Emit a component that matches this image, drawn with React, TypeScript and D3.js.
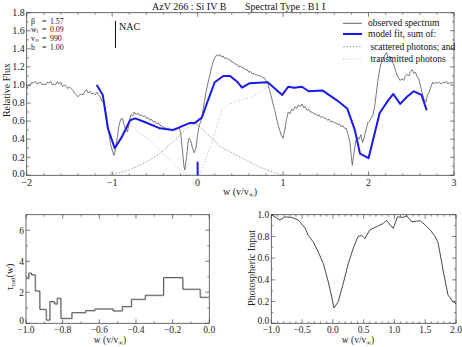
import React from "react";
import * as d3 from "d3";

// ---------- DATA ----------
const obsSpectrum: [number, number][] = [
  [-2.0, 0.95], [-1.98, 1.0], [-1.96, 0.99], [-1.94, 1.03], [-1.92, 1.02], [-1.9, 1.04], [-1.88, 1.01], [-1.86, 1.02],
  [-1.84, 1.03], [-1.82, 1.0], [-1.8, 1.01], [-1.78, 1.0], [-1.76, 1.03], [-1.74, 1.02], [-1.72, 1.04], [-1.7, 1.0],
  [-1.68, 1.01], [-1.66, 1.0], [-1.64, 1.04], [-1.62, 1.01], [-1.6, 1.03], [-1.58, 0.98], [-1.56, 1.0], [-1.54, 0.99],
  [-1.52, 0.96], [-1.5, 0.98], [-1.48, 0.96], [-1.46, 0.94], [-1.44, 0.91], [-1.42, 0.89], [-1.4, 0.87], [-1.38, 0.89],
  [-1.36, 0.9], [-1.34, 0.89], [-1.32, 0.93], [-1.3, 0.95], [-1.28, 0.91], [-1.26, 0.93], [-1.24, 0.9], [-1.22, 0.91],
  [-1.2, 0.89], [-1.18, 0.92], [-1.16, 0.89], [-1.14, 0.87], [-1.12, 0.82], [-1.1, 0.81], [-1.08, 0.74], [-1.06, 0.62],
  [-1.04, 0.48], [-1.02, 0.35], [-1.0, 0.28], [-0.98, 0.22], [-0.96, 0.3], [-0.94, 0.42], [-0.92, 0.55], [-0.9, 0.62],
  [-0.88, 0.63], [-0.86, 0.56], [-0.84, 0.5], [-0.82, 0.48], [-0.8, 0.6], [-0.78, 0.67], [-0.76, 0.66], [-0.74, 0.7],
  [-0.72, 0.67], [-0.7, 0.69], [-0.68, 0.66], [-0.66, 0.67], [-0.64, 0.65], [-0.62, 0.66], [-0.6, 0.63], [-0.58, 0.64],
  [-0.56, 0.61], [-0.54, 0.62], [-0.52, 0.59], [-0.5, 0.6], [-0.48, 0.57], [-0.46, 0.58], [-0.44, 0.55], [-0.42, 0.55],
  [-0.4, 0.53], [-0.38, 0.53], [-0.36, 0.51], [-0.34, 0.52], [-0.32, 0.51], [-0.3, 0.51], [-0.28, 0.51], [-0.26, 0.52],
  [-0.24, 0.51], [-0.22, 0.53], [-0.2, 0.48], [-0.18, 0.3], [-0.16, 0.1], [-0.15, 0.06], [-0.13, 0.2], [-0.11, 0.38],
  [-0.1, 0.41], [-0.08, 0.38], [-0.06, 0.3], [-0.04, 0.25], [-0.02, 0.3], [0.0, 0.45], [0.02, 0.56], [0.04, 0.6],
  [0.06, 0.7], [0.08, 0.82], [0.1, 0.93], [0.12, 1.02], [0.14, 1.09], [0.16, 1.18], [0.18, 1.25], [0.2, 1.3],
  [0.22, 1.33], [0.24, 1.32], [0.26, 1.34], [0.28, 1.31], [0.3, 1.32], [0.32, 1.29], [0.34, 1.3], [0.36, 1.28],
  [0.38, 1.28], [0.4, 1.25], [0.42, 1.25], [0.44, 1.23], [0.46, 1.23], [0.48, 1.2], [0.5, 1.21], [0.52, 1.19],
  [0.54, 1.19], [0.56, 1.17], [0.58, 1.17], [0.6, 1.14], [0.62, 1.15], [0.64, 1.12], [0.66, 1.13], [0.68, 1.11],
  [0.7, 1.11], [0.72, 1.1], [0.74, 1.1], [0.76, 1.08], [0.78, 1.08], [0.8, 1.05], [0.82, 1.02], [0.84, 0.95],
  [0.86, 0.88], [0.88, 0.8], [0.9, 0.73], [0.92, 0.65], [0.94, 0.56], [0.96, 0.5], [0.98, 0.44], [1.0, 0.41],
  [1.02, 0.5], [1.04, 0.62], [1.06, 0.7], [1.08, 0.68], [1.1, 0.73], [1.12, 0.72], [1.14, 0.76], [1.16, 0.74],
  [1.18, 0.78], [1.2, 0.76], [1.22, 0.79], [1.24, 0.75], [1.26, 0.76], [1.28, 0.72], [1.3, 0.73], [1.32, 0.7],
  [1.34, 0.7], [1.36, 0.68], [1.38, 0.68], [1.4, 0.66], [1.42, 0.67], [1.44, 0.64], [1.46, 0.65], [1.48, 0.63],
  [1.5, 0.63], [1.52, 0.61], [1.54, 0.62], [1.56, 0.59], [1.58, 0.6], [1.6, 0.58], [1.62, 0.58], [1.64, 0.56],
  [1.66, 0.57], [1.68, 0.54], [1.7, 0.55], [1.72, 0.52], [1.74, 0.52], [1.76, 0.45], [1.78, 0.38], [1.8, 0.2],
  [1.81, 0.11], [1.83, 0.25], [1.85, 0.38], [1.87, 0.42], [1.89, 0.4], [1.91, 0.45], [1.93, 0.36], [1.95, 0.42],
  [1.97, 0.5], [1.99, 0.58], [2.01, 0.6], [2.03, 0.63], [2.05, 0.66], [2.07, 0.75], [2.09, 0.9], [2.11, 1.05],
  [2.13, 1.17], [2.15, 1.25], [2.17, 1.28], [2.19, 1.33], [2.21, 1.36], [2.23, 1.3], [2.25, 1.32], [2.27, 1.26],
  [2.29, 1.24], [2.31, 1.18], [2.33, 1.12], [2.35, 1.08], [2.37, 1.05], [2.39, 1.07], [2.41, 1.05], [2.43, 1.1],
  [2.45, 1.12], [2.47, 1.1], [2.49, 1.15], [2.51, 1.17], [2.53, 1.13], [2.55, 1.14], [2.57, 1.09], [2.59, 1.06],
  [2.61, 0.98], [2.63, 0.9], [2.65, 0.84], [2.67, 0.81], [2.69, 0.89], [2.71, 0.92], [2.73, 0.98], [2.75, 1.03],
  [2.77, 1.01], [2.79, 1.03], [2.81, 1.02], [2.83, 1.03], [2.85, 1.01], [2.87, 1.03], [2.89, 1.02], [2.91, 1.04],
  [2.93, 1.01], [2.95, 1.03], [2.97, 1.02], [2.99, 1.03],
];

const modelFit: [number, number][] = [
  [-1.18, 1.0], [-1.11, 0.89], [-1.05, 0.52], [-0.97, 0.3], [-0.89, 0.42], [-0.79, 0.61], [-0.73, 0.63],
  [-0.62, 0.59], [-0.44, 0.52], [-0.29, 0.5], [-0.09, 0.58], [-0.03, 0.58], [0.05, 0.64], [0.11, 0.8],
  [0.2, 1.03], [0.3, 1.1], [0.38, 1.1], [0.47, 1.03], [0.52, 0.97], [0.61, 1.02], [0.82, 1.03], [0.99, 0.89],
  [1.06, 0.98], [1.13, 0.97], [1.22, 0.98], [1.3, 0.93], [1.46, 0.94], [1.63, 0.83], [1.75, 0.74],
  [1.84, 0.5], [1.9, 0.24], [2.0, 0.19], [2.13, 0.69], [2.23, 0.83], [2.29, 0.9], [2.37, 0.79], [2.45, 0.87],
  [2.53, 0.93], [2.62, 0.89], [2.68, 0.72],
];

const nacMarker: [number, number][] = [[0, 0], [0, 0.15]];

const scattered: [number, number][] = [
  [-1.18, 0.0], [-1.05, 0.0], [-0.9, 0.03], [-0.8, 0.06], [-0.68, 0.11], [-0.56, 0.17], [-0.44, 0.24],
  [-0.3, 0.36], [-0.17, 0.48], [-0.08, 0.56], [0.0, 0.56], [0.07, 0.5], [0.26, 0.32], [0.46, 0.22],
  [0.7, 0.1], [0.9, 0.03], [1.0, 0.0], [1.98, 0.0],
];

const transmitted: [number, number][] = [
  [-1.18, 1.0], [-1.11, 0.89], [-1.05, 0.52], [-0.97, 0.29], [-0.89, 0.4], [-0.79, 0.56], [-0.68, 0.47],
  [-0.56, 0.39], [-0.44, 0.28], [-0.3, 0.14], [-0.17, 0.03], [-0.08, 0.0], [0.03, 0.0], [0.1, 0.2],
  [0.18, 0.39], [0.28, 0.72], [0.34, 0.78], [0.5, 0.83], [0.65, 0.87], [0.81, 0.98], [0.99, 0.89],
  [1.06, 0.98], [1.13, 0.97], [1.22, 0.98], [1.3, 0.93], [1.46, 0.94], [1.63, 0.83], [1.75, 0.74],
  [1.84, 0.5], [1.9, 0.24], [2.0, 0.19], [2.13, 0.69], [2.23, 0.83], [2.29, 0.9], [2.37, 0.79],
  [2.45, 0.87], [2.53, 0.93], [2.62, 0.89], [2.68, 0.72],
];

const tauEdges = [-1.0, -0.985, -0.97, -0.95, -0.925, -0.89, -0.87, -0.845, -0.83, -0.81, -0.75, -0.675,
  -0.625, -0.525, -0.475, -0.425, -0.35, -0.25, -0.145, -0.05, 0.0];
const tauValues = [2.9, 3.24, 3.13, 2.09, 0.9, 0.21, 1.4, 1.25, 1.62, 0.32, 0.69, 0.82, 0.93, 0.8, 1.08,
  1.55, 1.81, 2.95, 2.2, 1.68];

const photInput: [number, number][] = [
  [-1.0, 1.0], [-0.94, 0.98], [-0.86, 0.95], [-0.78, 0.98], [-0.67, 0.975], [-0.56, 0.95], [-0.45, 0.875],
  [-0.4, 0.81], [-0.32, 0.75], [-0.24, 0.66], [-0.155, 0.55], [-0.074, 0.38], [-0.02, 0.245], [0.018, 0.14],
  [0.088, 0.2], [0.17, 0.37], [0.25, 0.55], [0.34, 0.705], [0.41, 0.8], [0.47, 0.81], [0.52, 0.78],
  [0.6, 0.86], [0.71, 0.89], [0.82, 0.92], [0.87, 0.95], [0.93, 0.905], [0.98, 0.875], [1.05, 0.98],
  [1.14, 0.975], [1.2, 0.99], [1.28, 0.935], [1.42, 0.945], [1.5, 0.905], [1.58, 0.86], [1.66, 0.8],
  [1.71, 0.74], [1.79, 0.49], [1.87, 0.26], [1.95, 0.2], [2.0, 0.18],
];

const mainXTicks = [-2, -1, 0, 1, 2, 3];
const mainYTicks = [0, 0.2, 0.4, 0.6, 0.8, 1.0, 1.2, 1.4, 1.6, 1.8];
const tauXTicks = [-1.0, -0.8, -0.6, -0.4, -0.2, 0.0];
const tauYTicks = [0, 2, 4, 6];
const photXTicks = [-1.0, -0.5, 0.0, 0.5, 1.0, 1.5, 2.0];
const photYTicks = [0.0, 0.2, 0.4, 0.6, 0.8, 1.0];

const paramLabels = ["β", "w", "v", "b"];
const paramSubs = ["", "t", "∞", ""];
const paramValues = ["1.57", "0.09", "990", "1.00"];

const legendLabels = ["observed spectrum", "model fit, sum of:", " scattered photons; and", " transmitted photons"];

// ---------- HELPERS ----------
const FONT = "'Liberation Serif', 'Times New Roman', serif";
const FRAME = "#444";

const fmt = (d: number, digits: number) => {
  const s = Math.abs(d).toFixed(digits);
  return (d < -1e-9 ? "\u2212" : "") + s;
};

function range(a: number, b: number, step: number) {
  const out: number[] = [];
  for (let v = a; v <= b + 1e-9; v += step) out.push(+v.toFixed(6));
  return out;
}

type FrameProps = {
  x: d3.ScaleLinear<number, number>;
  y: d3.ScaleLinear<number, number>;
  xTicks: number[];
  yTicks: number[];
  xMinor: number[];
  yMinor: number[];
  xDigits: number;
  yDigits: number;
  fs: number;
  xLabelDy: number;
  firstYDy: number;
};

function Frame({ x, y, xTicks, yTicks, xMinor, yMinor, xDigits, yDigits, fs, xLabelDy, firstYDy }: FrameProps) {
  const [x0, x1] = x.range();
  const [y0, y1] = y.range();
  const top = Math.min(y0, y1);
  const bot = Math.max(y0, y1);
  const MJ = 4, MN = 2;
  return (
    <g>
      <rect x={x0} y={top} width={x1 - x0} height={bot - top} fill="none" stroke={FRAME} strokeWidth={0.8} />
      {xTicks.map((t) => (
        <g key={"xt" + t}>
          <line x1={x(t)} x2={x(t)} y1={bot} y2={bot - MJ} stroke={FRAME} strokeWidth={0.7} />
          <line x1={x(t)} x2={x(t)} y1={top} y2={top + MJ} stroke={FRAME} strokeWidth={0.7} />
          <text x={x(t)} y={bot + xLabelDy} textAnchor="middle" fontSize={fs} fontFamily={FONT} fill="#222">
            {fmt(t, xDigits)}
          </text>
        </g>
      ))}
      {xMinor.map((t) => (
        <g key={"xm" + t}>
          <line x1={x(t)} x2={x(t)} y1={bot} y2={bot - MN} stroke={FRAME} strokeWidth={0.6} />
          <line x1={x(t)} x2={x(t)} y1={top} y2={top + MN} stroke={FRAME} strokeWidth={0.6} />
        </g>
      ))}
      {yTicks.map((t, i) => (
        <g key={"yt" + t}>
          <line x1={x0} x2={x0 + MJ} y1={y(t)} y2={y(t)} stroke={FRAME} strokeWidth={0.7} />
          <line x1={x1} x2={x1 - MJ} y1={y(t)} y2={y(t)} stroke={FRAME} strokeWidth={0.7} />
          <text x={x0 - 2} y={y(t) + (i === 0 ? firstYDy : 3.3)} textAnchor="end" fontSize={fs} fontFamily={FONT} fill="#222">
            {fmt(t, yDigits)}
          </text>
        </g>
      ))}
      {yMinor.map((t) => (
        <g key={"ym" + t}>
          <line x1={x0} x2={x0 + MN} y1={y(t)} y2={y(t)} stroke={FRAME} strokeWidth={0.6} />
          <line x1={x1} x2={x1 - MN} y1={y(t)} y2={y(t)} stroke={FRAME} strokeWidth={0.6} />
        </g>
      ))}
    </g>
  );
}

function WLabel({ cx, y, fs }: { cx: number; y: number; fs: number }) {
  return (
    <text x={cx} y={y} textAnchor="middle" fontSize={fs} fontFamily={FONT} fill="#222">
      w (v/v<tspan fontSize={fs * 0.7} dy={2}>∞</tspan>
      <tspan dy={-2}>)</tspan>
    </text>
  );
}

// ---------- APP ----------
export default function App() {
  const W = 462, H = 347;

  // main panel
  const xM = d3.scaleLinear().domain([-2, 3]).range([26.7, 454]);
  const yM = d3.scaleLinear().domain([0, 1.8]).range([175.3, 12.7]);
  const lineM = d3.line<[number, number]>().x((d) => xM(d[0])).y((d) => yM(d[1]));

  // tau panel
  const xT = d3.scaleLinear().domain([-1, 0]).range([26, 209.3]);
  const yT = d3.scaleLinear().domain([0, 7]).range([323.3, 214.7]);
  const tauPts: [number, number][] = tauEdges.map((e, i) => [e, tauValues[Math.min(i, tauValues.length - 1)]]);
  const lineT = d3.line<[number, number]>().x((d) => xT(d[0])).y((d) => yT(d[1])).curve(d3.curveStepAfter);

  // photospheric panel
  const xP = d3.scaleLinear().domain([-1, 2]).range([271.3, 456]);
  const yP = d3.scaleLinear().domain([0, 1]).range([323.3, 214.7]);
  const lineP = d3.line<[number, number]>().x((d) => xP(d[0])).y((d) => yP(d[1]));

  const mainXMinor = range(-2, 3, 0.2).filter((v) => Math.abs(v - Math.round(v)) > 1e-6);
  const mainYMinor = range(0.1, 1.7, 0.2);
  const tauXMinor = range(-0.9, -0.1, 0.2);
  const tauYMinor = range(1, 7, 2);
  const photXMinor = range(-1, 2, 0.1).filter((v) => Math.abs(v * 2 - Math.round(v * 2)) > 1e-6);
  const photYMinor = range(0.1, 0.9, 0.2);

  const legendY = [23.3, 34, 46.7, 59];
  const legendStyles = [
    { stroke: "#555", width: 0.9, dash: undefined as string | undefined },
    { stroke: "#1a1aee", width: 2, dash: undefined },
    { stroke: "#888", width: 0.8, dash: "1.6,1.6" },
    { stroke: "#999", width: 0.8, dash: "0.8,2" },
  ];

  const paramY = [23.6, 32.4, 41.2, 50.0];
  const PFS = 7.8;

  return (
    <svg width={W} height={H} style={{ position: "absolute", left: 0, top: 0, background: "#fff" }}>
      {/* title */}
      <text x={152} y={9.5} fontSize={10} fontFamily={FONT} fill="#111">AzV 266 : Si IV B</text>
      <text x={245} y={9.5} fontSize={10} fontFamily={FONT} fill="#111">Spectral Type : B1 I</text>

      {/* main panel */}
      <Frame x={xM} y={yM} xTicks={mainXTicks} yTicks={mainYTicks} xMinor={mainXMinor} yMinor={mainYMinor}
        xDigits={0} yDigits={1} fs={10} xLabelDy={10.5} firstYDy={1.2} />
      <path d={lineM(scattered) || ""} fill="none" stroke="#888" strokeWidth={0.8} strokeDasharray="1.6,1.6" />
      <path d={lineM(transmitted) || ""} fill="none" stroke="#999" strokeWidth={0.8} strokeDasharray="0.8,2" />
      <path d={lineM(obsSpectrum) || ""} fill="none" stroke="#555" strokeWidth={0.8} />
      <path d={lineM(modelFit) || ""} fill="none" stroke="#1a1aee" strokeWidth={2} strokeLinejoin="round" />
      <path d={lineM(nacMarker) || ""} fill="none" stroke="#1a1aee" strokeWidth={2} />

      {/* parameters */}
      {paramLabels.map((p, i) => (
        <g key={p}>
          <text x={31} y={paramY[i]} fontSize={PFS} fontFamily={FONT} fill="#111">
            {p}
            {paramSubs[i] ? <tspan fontSize={5.5} dy={1}>{paramSubs[i]}</tspan> : null}
          </text>
          <text x={42} y={paramY[i]} fontSize={PFS} fontFamily={FONT} fill="#111">=</text>
          <text x={50} y={paramY[i]} fontSize={PFS} fontFamily={FONT} fill="#111">{paramValues[i]}</text>
        </g>
      ))}
      {/* NAC marker */}
      <line x1={115.5} x2={115.5} y1={21} y2={48} stroke="#111" strokeWidth={1} />
      <text x={119} y={30} fontSize={10} fontFamily={FONT} fill="#111">NAC</text>

      {/* legend */}
      {legendLabels.map((l, i) => (
        <g key={l}>
          <line x1={343} x2={362} y1={legendY[i]} y2={legendY[i]} stroke={legendStyles[i].stroke}
            strokeWidth={legendStyles[i].width} strokeDasharray={legendStyles[i].dash} />
          <text x={368} y={legendY[i] + 3} fontSize={9.5} fontFamily={FONT} fill="#111" xmlSpace="preserve"
            style={{ whiteSpace: "pre" }}>{l}</text>
        </g>
      ))}

      <text transform={`translate(10,90) rotate(-90)`} textAnchor="middle" fontSize={10} fontFamily={FONT} fill="#222">
        Relative Flux
      </text>
      <WLabel cx={240} y={195} fs={10} />

      {/* tau panel */}
      <Frame x={xT} y={yT} xTicks={tauXTicks} yTicks={tauYTicks} xMinor={tauXMinor} yMinor={tauYMinor}
        xDigits={1} yDigits={0} fs={9.5} xLabelDy={9.5} firstYDy={0.5} />
      <path d={lineT(tauPts) || ""} fill="none" stroke="#ccc" strokeWidth={1} transform="translate(0.7,0.7)" />
      <path d={lineT(tauPts) || ""} fill="none" stroke="#333" strokeWidth={0.8} />
      <text transform={`translate(13,277) rotate(-90)`} textAnchor="middle" fontSize={10} fontFamily={FONT} fill="#222">
        τ<tspan fontSize={7} dy={2}>rad</tspan><tspan dy={-2}>(w)</tspan>
      </text>
      <WLabel cx={110} y={343} fs={9.5} />

      {/* photospheric panel */}
      <Frame x={xP} y={yP} xTicks={photXTicks} yTicks={photYTicks} xMinor={photXMinor} yMinor={photYMinor}
        xDigits={1} yDigits={1} fs={9.5} xLabelDy={9.5} firstYDy={0.5} />
      <path d={lineP(photInput) || ""} fill="none" stroke="#333" strokeWidth={0.9} />
      <text transform={`translate(255,268) rotate(-90)`} textAnchor="middle" fontSize={10} fontFamily={FONT} fill="#222">
        Photospheric Input
      </text>
      <WLabel cx={358} y={343} fs={9.5} />
    </svg>
  );
}
